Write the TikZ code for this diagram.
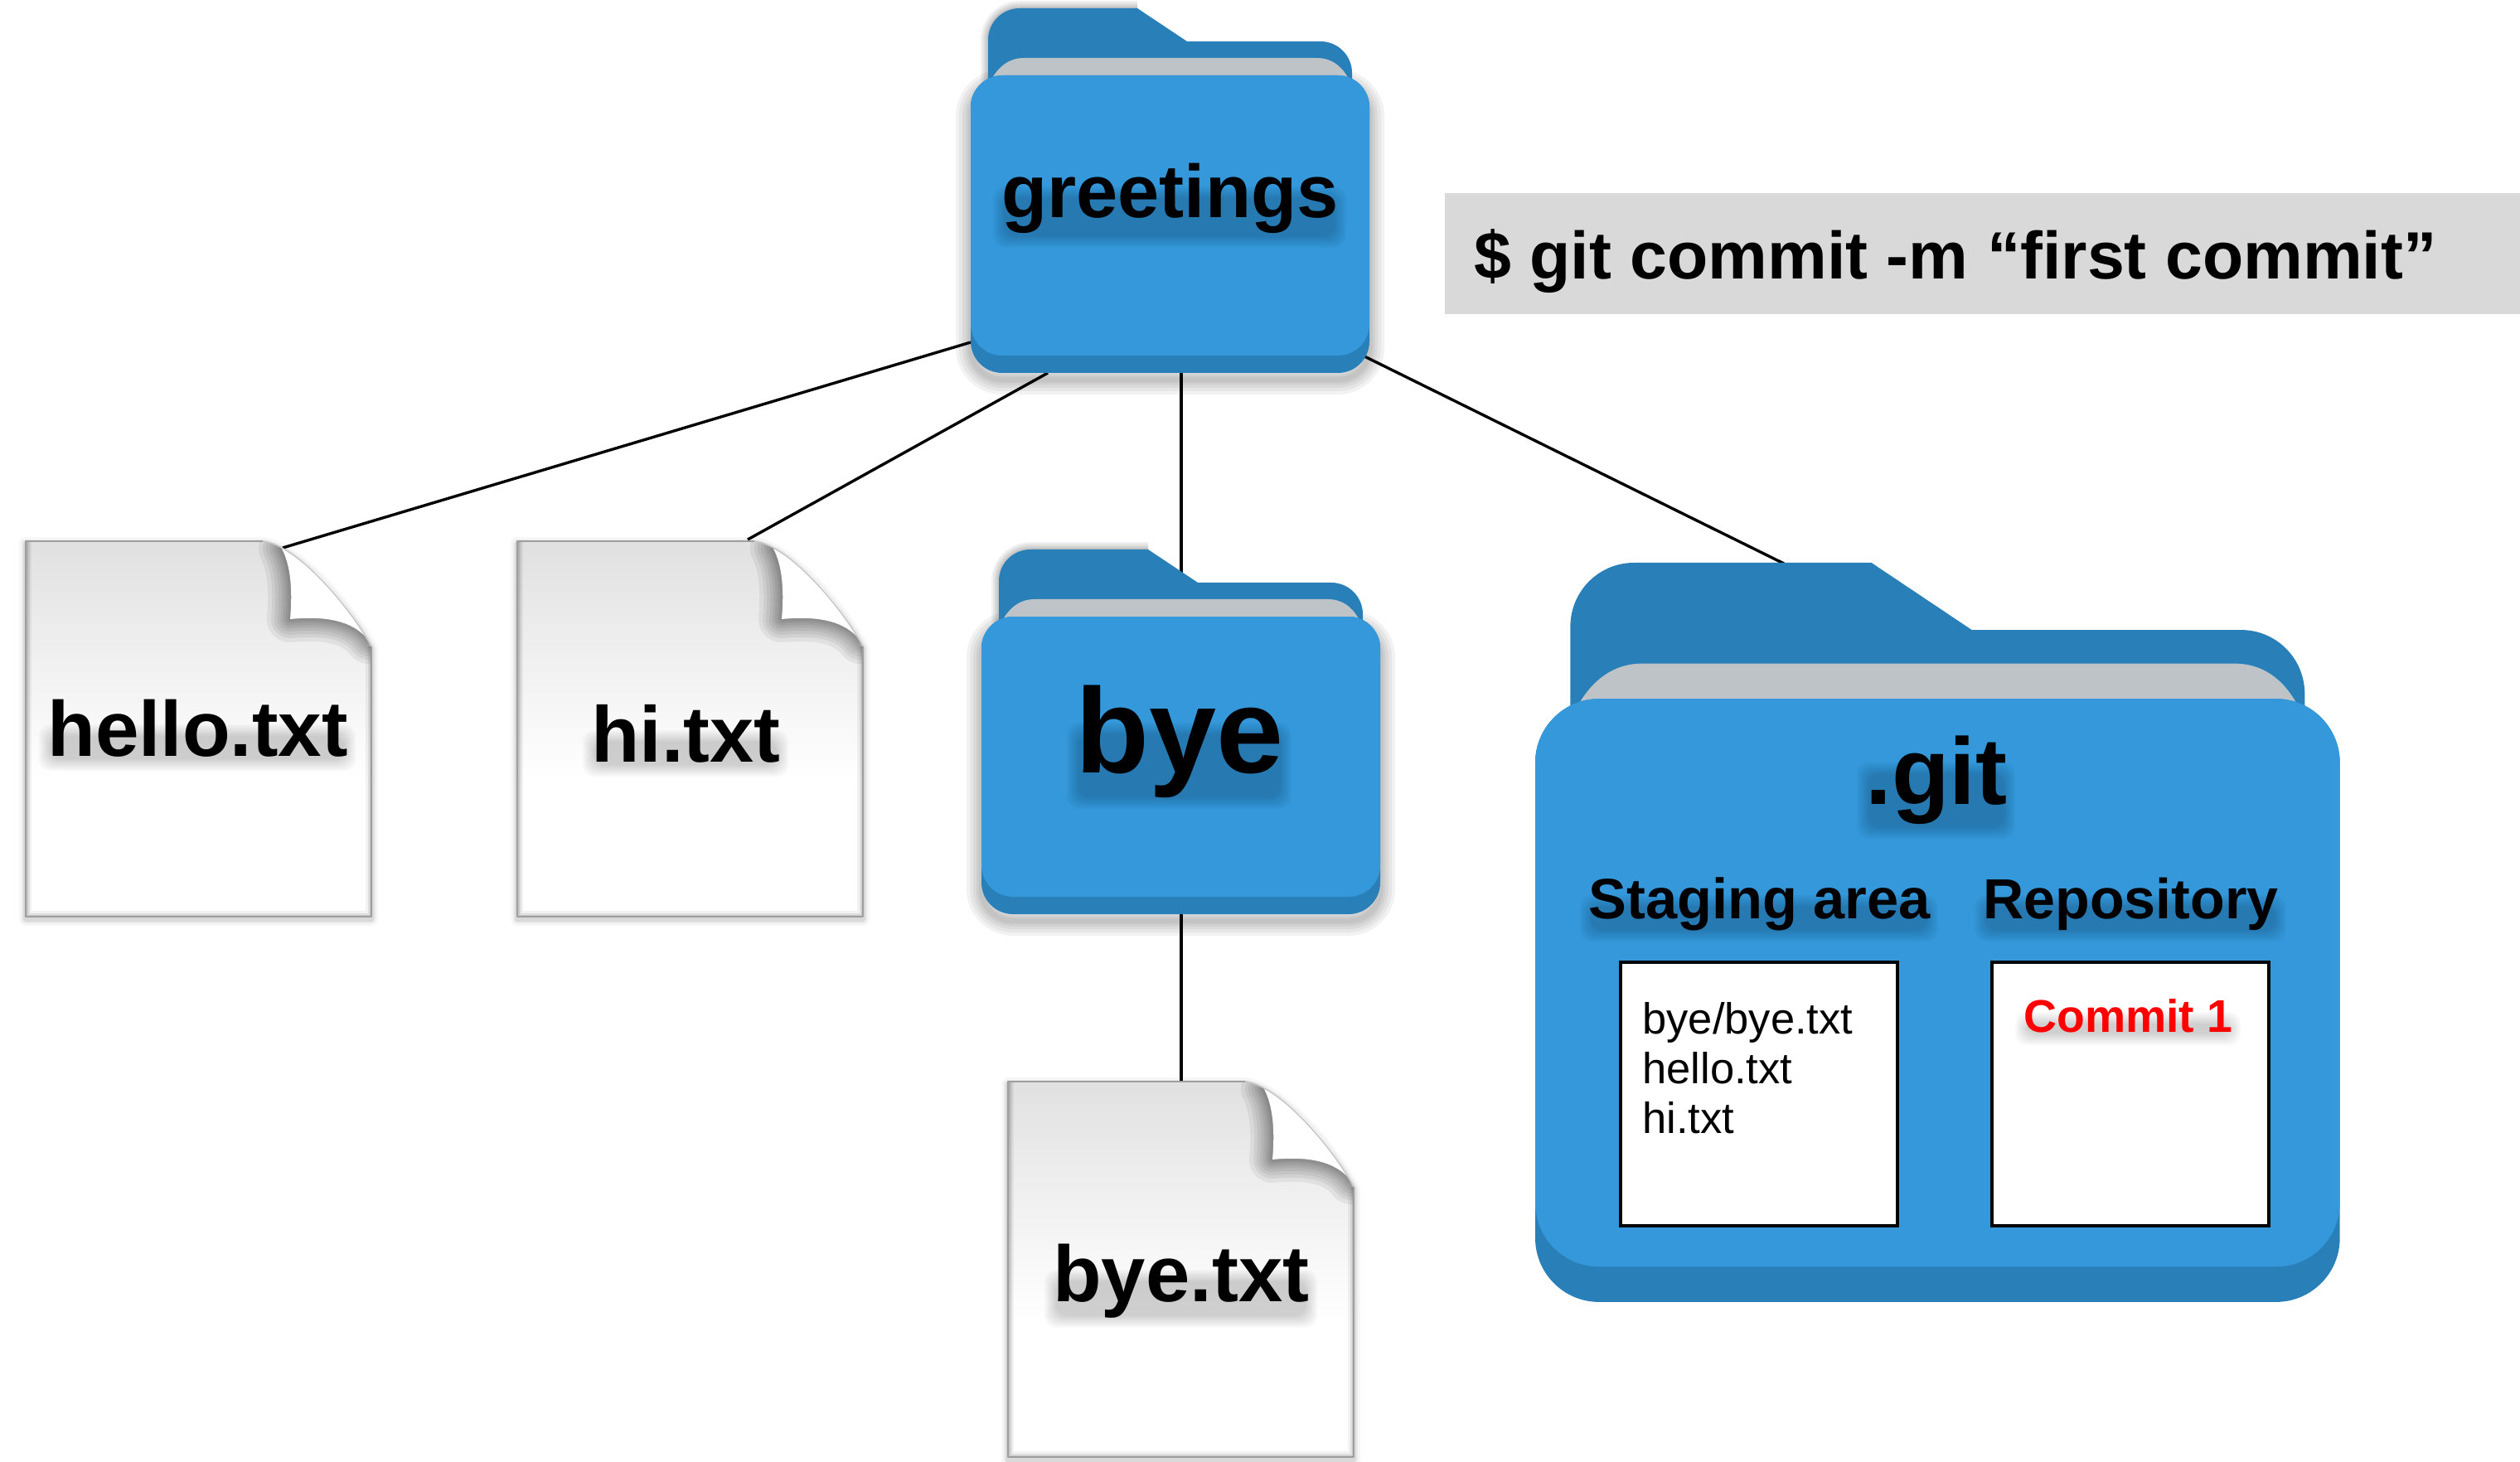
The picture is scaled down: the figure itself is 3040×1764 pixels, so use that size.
\documentclass[tikz,border=0pt]{standalone}
\usepackage{fontspec}
\usepackage{graphicx}
\setmainfont{Liberation Sans}
\definecolor{fblue}{HTML}{3498DB}
\definecolor{fdark}{HTML}{2980B9}
\definecolor{fgray}{HTML}{BDC3C7}
\definecolor{cmdgray}{HTML}{D9D9D9}
\pgfdeclareverticalshading{filegrad}{100bp}{color(0bp)=(white); color(43bp)=(white); color(60bp)=(white!94!black); color(75bp)=(white!88!black); color(100bp)=(white!88!black)}
\tikzset{
  conn/.style={draw=black,line width=1.7pt},
  lab/.style={anchor=base west,inner sep=0pt,text=black},
  inbox/.style={draw=black,line width=2.2pt,fill=white},
}
\newcommand\fittext[2]{\resizebox{\dimexpr #1pt/2\relax}{!}{#2}}
\newcommand\rrect[5]{% x0 y0 x1 y1 r
  (#1+#5,#2) -- (#3-#5,#2) .. controls (#3-.45*#5,#2) and (#3,#2+.45*#5) .. (#3,#2+#5)
  -- (#3,#4-#5) .. controls (#3,#4-.45*#5) and (#3-.45*#5,#4) .. (#3-#5,#4)
  -- (#1+#5,#4) .. controls (#1+.45*#5,#4) and (#1,#4-.45*#5) .. (#1,#4-#5)
  -- (#1,#2+#5) .. controls (#1,#2+.45*#5) and (#1+.45*#5,#2) .. (#1+#5,#2) -- cycle}
% soft shadow band under a text line: x0 x1 ytop ybottom
\newcommand\softband[4]{%
  \foreach \i in {0,2,4,6,8,10,12,14}{
    \fill[black,opacity=.022] \rrect{#1+\i}{#2+\i}{#3-\i}{#4-\i}{14};
  }
}
% name, left x, baseline y, width in px, font, text, height above baseline, depth of shadow
\newcommand\shlabel[8]{%
  \softband{#2-10}{#3-#7}{#2+#4+10}{#3+#8}
  \node[lab] (#1) at (#2,#3) {\fittext{#4}{#5#6}};
}
% folder: x, y, scale options, shadow opacity
\newcommand\folder[4]{%
  \begin{scope}[shift={(#1,#2)},#3]
    \foreach \w in {36,28,20,13,7}{
      \draw[line width=\w pt/2,black,opacity=#4,line join=round] \rrect{0}{92}{481}{448}{38};
      \draw[line width=\w pt/4,black,opacity=#4,line join=round] (21,100) -- (21,38) .. controls (21,17) and (38,0) .. (59,0) -- (201,0);
    }
    \fill[fdark] (21,110) -- (21,38) .. controls (21,17) and (38,0) .. (59,0) -- (201,0) -- (261,40) -- (422,40) .. controls (443,40) and (460,57) .. (460,78) -- (460,110) -- cycle;
    \fill[fgray] (22,92) .. controls (31,72) and (45,60) .. (64,60) -- (418,60) .. controls (437,60) and (451,72) .. (459,92) -- cycle;
    \fill[fdark] \rrect{0}{81}{481}{440}{38};
    \fill[fblue] \rrect{0}{81}{481}{419}{38};
  \end{scope}
}
\newcommand\filepath{(0,0) -- (286,0) .. controls (330,5) and (395,85) .. (417,127) -- (417,453) -- (0,453) -- cycle}
\newcommand\flappath{(309,9) .. controls (320,30) and (322,60) .. (319,94) .. controls (360,90) and (395,95) .. (414,120) .. controls (385,70) and (345,25) .. (309,9) -- cycle}
\newcommand\fileicon[2]{%
  \begin{scope}[shift={(#1,#2)}]
    \foreach \w/\o in {16/.03,10/.05,6/.07}{
      \draw[line width=\w pt/2,black,opacity=\o,line join=round,shift={(0,3)}] \filepath;
    }
    \path[shading=filegrad] \filepath;
    \begin{scope}
      \clip \filepath;
      \foreach \w/\o in {14/.05,9/.08,5/.1}{
        \draw[line width=\w pt/2,black,opacity=\o] (0,0) -- (0,453) -- (417,453) -- (417,127);
      }
      \foreach \w in {56,46,38,30,23,17,11,6}{
        \draw[line width=\w pt/2,black,opacity=.06,line join=round] \flappath;
      }
    \end{scope}
    \fill[white] \flappath;
    \draw[line width=.8pt,black!22,line join=round] (286,0) .. controls (330,5) and (395,85) .. (417,127);
    \draw[line width=1pt,black!38,line join=round] (286,0) -- (0,0) -- (0,453) -- (417,453) -- (417,127);
  \end{scope}
}
\begin{document}
\begin{tikzpicture}[x=.5pt,y=-.5pt]
\useasboundingbox (0,0) rectangle (3040,1764);
% connector ends
\coordinate (g1) at (1171,413); \coordinate (h1) at (341,661);
\coordinate (g2) at (1264,450); \coordinate (i1) at (902,651);
\coordinate (g3) at (1425,450); \coordinate (b1) at (1425,692);
\coordinate (g4) at (1646,430); \coordinate (d1) at (2152,680);
\coordinate (b2) at (1425,1101); \coordinate (y1) at (1425,1305);
\draw[conn] (g1) -- (h1);
\draw[conn] (g2) -- (i1);
\draw[conn] (g3) -- (b1);
\draw[conn] (g4) -- (d1);
\draw[conn] (b2) -- (y1);
\fileicon{31}{653}
\fileicon{624}{653}
\fileicon{1216}{1305}
\folder{1171}{10}{scale=1}{.05}
\folder{1184}{663}{scale=1}{.05}
\folder{1852}{679}{xscale=2.018,yscale=2.027}{0}
\node[fill=cmdgray,inner sep=0pt,minimum width=648.5pt,minimum height=73pt,anchor=north west] (cmd) at (1743,233) {};
\node[lab] (cmdtext) at (1778,337) {\fittext{1161}{\fontsize{42}{50}\selectfont\bfseries\$ git commit -m “first commit”}};
\shlabel{greetings}{1208}{263}{406}{\fontsize{44}{50}\selectfont\bfseries}{greetings}{38}{36}
\shlabel{hello}{57}{912}{362}{\fontsize{44}{50}\selectfont\bfseries}{hello.txt}{38}{18}
\shlabel{hi}{713}{919}{228}{\fontsize{44}{50}\selectfont\bfseries}{hi.txt}{38}{18}
\shlabel{bye}{1297}{932}{251}{\fontsize{70}{80}\selectfont\bfseries}{bye}{60}{44}
\shlabel{byetxt}{1270}{1570}{309}{\fontsize{44}{50}\selectfont\bfseries}{bye.txt}{38}{32}
\shlabel{git}{2250}{970}{171}{\fontsize{55}{60}\selectfont\bfseries}{.git}{50}{42}
\shlabel{staging}{1916}{1108}{412}{\fontsize{35}{40}\selectfont\bfseries}{Staging area}{28}{28}
\shlabel{repo}{2392}{1108}{356}{\fontsize{35}{40}\selectfont\bfseries}{Repository}{28}{28}
\node[inbox,minimum width=167pt,minimum height=159pt,anchor=north west,inner sep=0pt] (stagebox) at (1953,1159) {};
\node[inbox,minimum width=167pt,minimum height=159pt,anchor=north west,inner sep=0pt] (repobox) at (2401,1159) {};
\node[anchor=north west,inner sep=0pt,align=left,font=\fontsize{26.25}{30}\selectfont] (stagetext) at (1981,1209) {bye/bye.txt\\hello.txt\\hi.txt};
\shlabel{commit}{2441}{1245}{252}{\color{red}\fontsize{28}{30}\selectfont\bfseries}{Commit 1}{24}{16}
\end{tikzpicture}
\end{document}
